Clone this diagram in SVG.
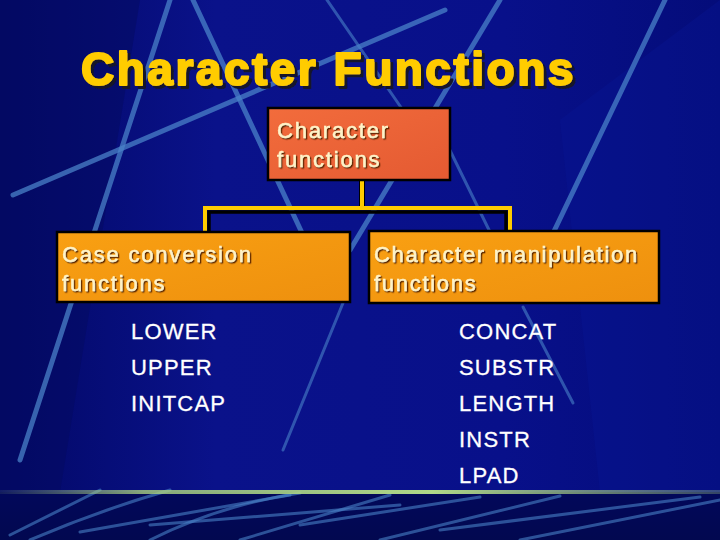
<svg xmlns="http://www.w3.org/2000/svg" width="720" height="540" viewBox="0 0 720 540">
<defs>
<linearGradient id="bg" x1="0" y1="0" x2="1" y2="0">
<stop offset="0" stop-color="#020866"/>
<stop offset="0.3" stop-color="#0A128A"/>
<stop offset="0.7" stop-color="#08108A"/>
<stop offset="1" stop-color="#040C7A"/>
</linearGradient>
<linearGradient id="bot" x1="0" y1="0" x2="0" y2="1">
<stop offset="0" stop-color="#02085A"/>
<stop offset="1" stop-color="#020850"/>
</linearGradient>
<linearGradient id="rule" x1="0" y1="0" x2="1" y2="0">
<stop offset="0" stop-color="#A8D080" stop-opacity="0.1"/>
<stop offset="0.2" stop-color="#A8D080" stop-opacity="0.8"/>
<stop offset="0.6" stop-color="#B0D888" stop-opacity="1"/>
<stop offset="1" stop-color="#A8D080" stop-opacity="0.3"/>
</linearGradient>
<linearGradient id="topfill" x1="0" y1="0" x2="1" y2="1">
<stop offset="0" stop-color="#F26C3C"/>
<stop offset="1" stop-color="#E45A32"/>
</linearGradient>
<linearGradient id="subfill" x1="0" y1="0" x2="1" y2="1">
<stop offset="0" stop-color="#F9A012"/>
<stop offset="1" stop-color="#EE900E"/>
</linearGradient>
<filter id="tsh" x="-5%" y="-20%" width="110%" height="140%">
<feDropShadow dx="3" dy="3" stdDeviation="0.5" flood-color="#15152A" flood-opacity="1"/>
</filter>
<filter id="bsh" x="-5%" y="-20%" width="110%" height="140%">
<feDropShadow dx="1.3" dy="1.3" stdDeviation="0.4" flood-color="#5A2800" flood-opacity="1"/>
</filter>
</defs>
<style>
.streak{stroke:#4A82C8;stroke-width:5;stroke-linecap:round;fill:none;opacity:0.75}
.streak2{stroke:#4A82C8;stroke-width:3;stroke-linecap:round;fill:none;opacity:0.6}
.title{font-family:"Liberation Sans",Arial,sans-serif;font-weight:bold;font-size:46px;letter-spacing:2.5px;fill:#FFCC00;stroke:#FFCC00;stroke-width:2;stroke-linejoin:round;filter:url(#tsh)}
.box{stroke:#000;stroke-width:2.5}
.btxt{font-family:"Liberation Sans",Arial,sans-serif;font-size:22px;fill:#FFF3C8;stroke:#FFF3C8;stroke-width:0.5;filter:url(#bsh)}
.item{font-family:"Liberation Sans",Arial,sans-serif;font-size:22px;fill:#FFFFFF;stroke:#FFFFFF;stroke-width:0.3;letter-spacing:1.2px}
</style>
<rect x="0" y="0" width="720" height="540" fill="url(#bg)"/>
<polygon points="0,0 140,0 60,492 0,492" fill="#040A60" opacity="0.5"/>
<polygon points="560,120 720,0 720,492 600,492" fill="#0A1696" opacity="0.35"/>
<g id="bg-lines">
<line class="streak" x1="170" y1="0" x2="20" y2="460"/>
<line class="streak" x1="193" y1="0" x2="310" y2="250"/>
<line class="streak" x1="13" y1="195" x2="445" y2="10"/>
<line class="streak2" x1="327" y1="0" x2="420" y2="135"/>
<line class="streak" x1="500" y1="0" x2="350" y2="250"/>
<line class="streak" x1="665" y1="0" x2="545" y2="250"/>
<line class="streak2" x1="440" y1="130" x2="490" y2="232"/>
<line class="streak2" x1="343" y1="303" x2="283" y2="450"/>
<line class="streak2" x1="523" y1="307" x2="573" y2="403" opacity="0.35"/>
</g>
<rect x="0" y="492" width="720" height="48" fill="url(#bot)"/>
<g id="bottom-streaks">
<path class="streak2" d="M10,535 Q60,510 100,490"/>
<path class="streak2" d="M30,540 Q100,510 170,490"/>
<path class="streak2" d="M80,532 L290,495"/>
<path class="streak2" d="M150,540 Q220,505 300,493"/>
<path class="streak2" d="M150,525 L400,505"/>
<path class="streak2" d="M240,540 L390,495"/>
<path class="streak2" d="M300,525 L480,497"/>
<path class="streak2" d="M380,540 L560,496"/>
<path class="streak2" d="M440,530 L700,497"/>
<path class="streak2" d="M520,540 L720,500"/>
</g>
<rect x="0" y="490" width="720" height="4" fill="url(#rule)"/>
<g id="title">
<text class="title" x="81" y="85">Character Functions</text>
</g>
<g id="connectors">
<path d="M209,232 V212 H506 V232" fill="none" stroke="#000" stroke-width="3.5"/>
<path d="M362,181 V208" fill="none" stroke="#000" stroke-width="6"/>
<path d="M362,181 V208" fill="none" stroke="#FFCC00" stroke-width="4"/>
<path d="M205,232 V208 H510 V232" fill="none" stroke="#FFCC00" stroke-width="4"/>
</g>
<g id="node-root">
<rect class="box" x="268" y="108" width="182" height="72" fill="url(#topfill)"/>
<text class="btxt" x="277" y="138" letter-spacing="1.8">Character</text>
<text class="btxt" x="277" y="167" letter-spacing="1.8">functions</text>
</g>
<g id="node-case">
<rect class="box" x="57" y="232" width="293" height="70" fill="url(#subfill)"/>
<text class="btxt" x="62" y="262" letter-spacing="1.8">Case conversion</text>
<text class="btxt" x="62" y="291" letter-spacing="1.8">functions</text>
</g>
<g id="node-manip">
<rect class="box" x="369" y="231" width="290" height="72" fill="url(#subfill)"/>
<text class="btxt" x="374" y="262" letter-spacing="1.7">Character manipulation</text>
<text class="btxt" x="374" y="291" letter-spacing="1.7">functions</text>
</g>
<g id="list-case">
<text class="item" x="131" y="339">LOWER</text>
<text class="item" x="131" y="375">UPPER</text>
<text class="item" x="131" y="411">INITCAP</text>
</g>
<g id="list-manip">
<text class="item" x="459" y="339">CONCAT</text>
<text class="item" x="459" y="375">SUBSTR</text>
<text class="item" x="459" y="411">LENGTH</text>
<text class="item" x="459" y="447">INSTR</text>
<text class="item" x="459" y="483">LPAD</text>
</g>
</svg>
